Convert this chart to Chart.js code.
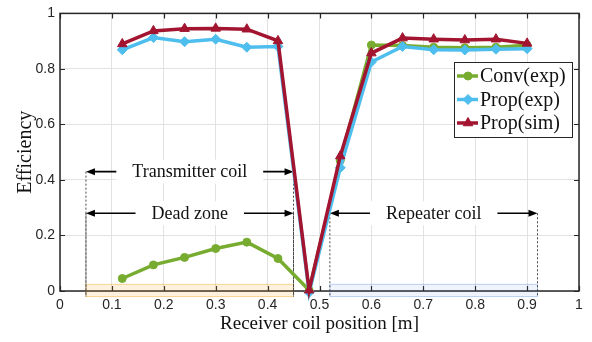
<!DOCTYPE html>
<html>
<head>
<meta charset="utf-8">
<script src="https://cdn.jsdelivr.net/npm/chart.js@4.4.1/dist/chart.umd.min.js"></script>
<style>
  html, body { margin: 0; padding: 0; background: #fff; }
  canvas { display: block; }
</style>
</head>
<body>
<canvas id="grafic" width="592" height="342"></canvas>
<script>
/* Eficiència vs posició de la bobina receptora */

const posicions = [0.12, 0.18, 0.24, 0.30, 0.36, 0.42, 0.48, 0.54, 0.60, 0.66, 0.72, 0.78, 0.84, 0.90];
const convExp   = [0.045, 0.094, 0.121, 0.153, 0.176, 0.117, 0.003, 0.47, 0.886, 0.884, 0.878, 0.876, 0.878, 0.885];
const propExp   = [0.869, 0.913, 0.898, 0.907, 0.878, 0.881, -0.005, 0.444, 0.825, 0.881, 0.869, 0.868, 0.871, 0.873];
const propSim   = [0.890, 0.937, 0.945, 0.946, 0.943, 0.901, 0.003, 0.486, 0.857, 0.911, 0.907, 0.904, 0.907, 0.892];

const nomsSeries = ['Conv(exp)', 'Prop(exp)', 'Prop(sim)'];

const xTicks = [0, 0.1, 0.2, 0.3, 0.4, 0.5, 0.6, 0.7, 0.8, 0.9, 1];
const xTickLabels = ['0', '0.1', '0.2', '0.3', '0.4', '0.5', '0.6', '0.7', '0.8', '0.9', '1'];
const yTicks = [0, 0.2, 0.4, 0.6, 0.8, 1];
const yTickLabels = ['0', '0.2', '0.4', '0.6', '0.8', '1'];

// trams anotats (fletxes)
const tramEtiquetes = ['Transmitter coil', 'Dead zone', 'Repeater coil'];
const tramInici     = [0.05, 0.05, 0.52];
const tramFi        = [0.45, 0.45, 0.92];
const tramNivell    = [0.43, 0.28, 0.28];

// zones ombrejades a la base
const zonaInici = [0.05, 0.52];
const zonaFi    = [0.45, 0.92];
const zonaBaix  = -0.02;
const zonaDalt  = 0.024;

const COLORS = ['#77ac30', '#4dbeee', '#a2142f'];
const ESTILS = ['circle', 'rectRot', 'triangle'];
const RADIS  = [4, 5, 5.5];
const ZONA_FONS = ['rgba(245,166,35,0.15)', 'rgba(77,127,224,0.09)'];
const ZONA_VORA = ['rgba(245,166,35,0.45)', 'rgba(77,127,224,0.35)'];

const TINTA = '#262626';
const SERIF = '"Liberation Serif", "Times New Roman", serif';

Chart.defaults.font.family = '"Liberation Sans", Arial, sans-serif';
Chart.defaults.color = TINTA;

const series = [convExp, propExp, propSim];
const datasets = series.map((vals, i) => ({
  label: nomsSeries[i],
  data: posicions.map((x, k) => ({ x, y: vals[k] })),
  borderColor: COLORS[i],
  backgroundColor: COLORS[i],
  borderWidth: 3.5,
  pointStyle: ESTILS[i],
  pointRadius: RADIS[i],
  pointBorderWidth: 1,
  pointBackgroundColor: COLORS[i],
  pointBorderColor: COLORS[i],
  order: 3 - i,
  clip: 10,
}));

function fletxa(ctx, x, y, dir) {
  ctx.beginPath();
  ctx.moveTo(x, y);
  ctx.lineTo(x - dir * 9, y - 3.5);
  ctx.lineTo(x - dir * 9, y + 3.5);
  ctx.closePath();
  ctx.fill();
}

const anotacions = {
  id: 'anotacions',
  beforeDatasetsDraw(chart) {
    const { ctx, chartArea: a, scales: { x, y } } = chart;
    ctx.save();

    // marc
    ctx.strokeStyle = TINTA;
    ctx.lineWidth = 1.5;
    ctx.strokeRect(a.left, a.top, a.right - a.left, a.bottom - a.top);

    // marques cap a dins
    ctx.lineWidth = 1.2;
    ctx.beginPath();
    xTicks.forEach(v => {
      const px = Math.round(x.getPixelForValue(v)) + 0.5;
      ctx.moveTo(px, a.bottom); ctx.lineTo(px, a.bottom - 5);
      ctx.moveTo(px, a.top);    ctx.lineTo(px, a.top + 5);
    });
    yTicks.forEach(v => {
      const py = Math.round(y.getPixelForValue(v)) + 0.5;
      ctx.moveTo(a.left, py);  ctx.lineTo(a.left + 5, py);
      ctx.moveTo(a.right, py); ctx.lineTo(a.right - 5, py);
    });
    ctx.stroke();

    // zones
    zonaInici.forEach((x0, i) => {
      const l = x.getPixelForValue(x0), r = x.getPixelForValue(zonaFi[i]);
      const t = y.getPixelForValue(zonaDalt), b = y.getPixelForValue(zonaBaix);
      ctx.fillStyle = ZONA_FONS[i];
      ctx.fillRect(l, t, r - l, b - t);
      ctx.strokeStyle = ZONA_VORA[i];
      ctx.lineWidth = 1;
      ctx.strokeRect(l, t, r - l, b - t);
    });

    // línies discontínues
    ctx.strokeStyle = '#333';
    ctx.lineWidth = 0.9;
    ctx.setLineDash([2, 2]);
    tramEtiquetes.forEach((_, i) => {
      const py = y.getPixelForValue(tramNivell[i]);
      const pb = y.getPixelForValue(zonaBaix);
      [tramInici[i], tramFi[i]].forEach(v => {
        const px = x.getPixelForValue(v);
        ctx.beginPath();
        ctx.moveTo(px, py); ctx.lineTo(px, pb);
        ctx.stroke();
      });
    });
    ctx.setLineDash([]);

    // fletxes amb etiqueta
    ctx.font = '18px ' + SERIF;
    ctx.textAlign = 'center';
    ctx.textBaseline = 'middle';
    tramEtiquetes.forEach((txt, i) => {
      const l = x.getPixelForValue(tramInici[i]);
      const r = x.getPixelForValue(tramFi[i]);
      const py = y.getPixelForValue(tramNivell[i]);
      ctx.strokeStyle = '#000';
      ctx.fillStyle = '#000';
      ctx.lineWidth = 1.6;
      ctx.beginPath();
      ctx.moveTo(l + 4, py); ctx.lineTo(r - 4, py);
      ctx.stroke();
      fletxa(ctx, l, py, -1);
      fletxa(ctx, r, py, 1);
      const cx = (l + r) / 2;
      const w = ctx.measureText(txt).width + 32;
      ctx.fillStyle = '#fff';
      ctx.fillRect(cx - w / 2, py - 12, w, 24);
      ctx.fillStyle = '#111';
      ctx.fillText(txt, cx, py + 1);
    });

    ctx.restore();
  },
  afterDraw(chart) {
    // llegenda
    const { ctx } = chart;
    ctx.save();
    const bx = 454, by = 62, bw = 118, bh = 75;
    ctx.fillStyle = '#fff';
    ctx.fillRect(bx, by, bw, bh);
    ctx.strokeStyle = TINTA;
    ctx.lineWidth = 1;
    ctx.strokeRect(bx + 0.5, by + 0.5, bw, bh);
    ctx.font = '20px ' + SERIF;
    ctx.textBaseline = 'middle';
    ctx.textAlign = 'left';
    nomsSeries.forEach((nom, i) => {
      const ry = by + 14 + i * 23.5;
      ctx.strokeStyle = COLORS[i];
      ctx.fillStyle = COLORS[i];
      ctx.lineWidth = 3.5;
      ctx.beginPath();
      ctx.moveTo(bx + 3, ry); ctx.lineTo(bx + 24, ry);
      ctx.stroke();
      ctx.lineWidth = 1;
      Chart.helpers.drawPoint(ctx, { pointStyle: ESTILS[i], radius: RADIS[i], borderWidth: 1, rotation: 0 }, bx + 14, ry);
      ctx.fillStyle = '#111';
      ctx.fillText(nom, bx + 26, ry + 1);
    });
    ctx.restore();
  }
};

new Chart(document.getElementById('grafic').getContext('2d'), {
  type: 'line',
  data: { datasets },
  options: {
    responsive: false,
    animation: false,
    layout: { padding: { top: 7, right: 13, left: 0, bottom: 0 } },
    plugins: { legend: { display: false }, tooltip: { enabled: false } },
    scales: {
      x: {
        type: 'linear',
        min: 0, max: 1,
        afterBuildTicks: s => { s.ticks = xTicks.map(v => ({ value: v })); },
        afterFit: s => { s.height = 51; },
        ticks: {
          callback: (v, i) => xTickLabels[i],
          font: { size: 14 },
          color: TINTA,
          padding: 6,
          maxRotation: 0,
        },
        grid: { color: '#e2e2e2', drawTicks: false },
        border: { display: false },
        title: {
          display: true,
          text: 'Receiver coil position [m]',
          font: { family: SERIF, size: 19 },
          color: '#111',
          padding: { top: 0, bottom: 7 },
        },
      },
      y: {
        min: 0, max: 1,
        afterBuildTicks: s => { s.ticks = yTicks.map(v => ({ value: v })); },
        afterFit: s => { s.width = 60; },
        ticks: {
          callback: (v, i) => yTickLabels[i],
          font: { size: 14 },
          color: TINTA,
          padding: 5,
        },
        grid: { color: '#e2e2e2', drawTicks: false },
        border: { display: false },
        title: {
          display: true,
          text: 'Efficiency',
          font: { family: SERIF, size: 20 },
          color: '#111',
          padding: { top: 14, bottom: 0 },
        },
      },
    },
  },
  plugins: [anotacions],
});
</script>
</body>
</html>
